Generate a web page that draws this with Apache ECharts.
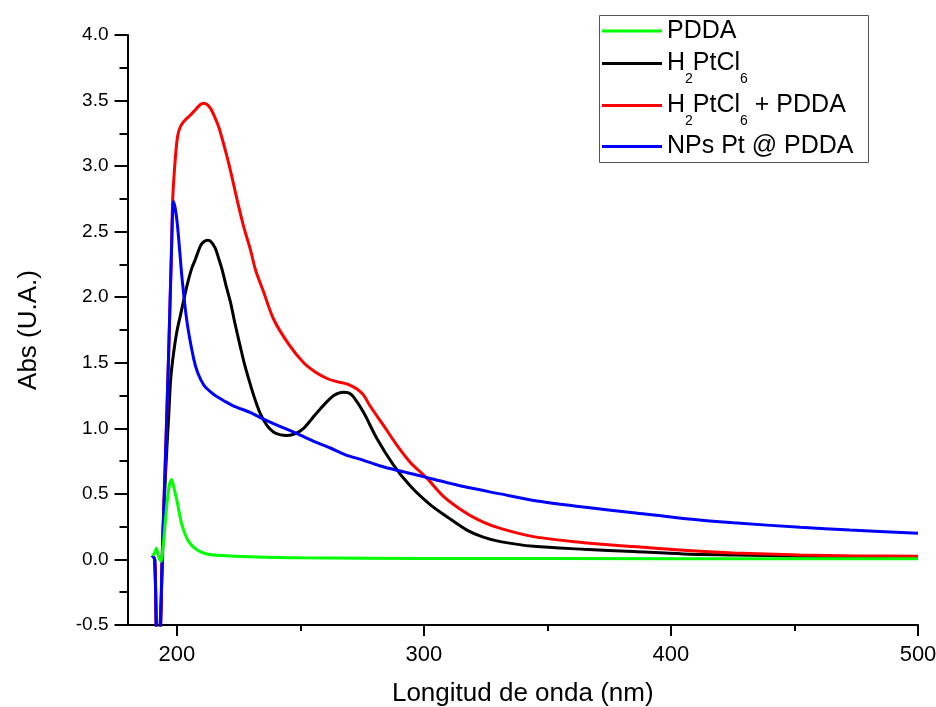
<!DOCTYPE html>
<html>
<head>
<meta charset="utf-8">
<script src="https://cdn.jsdelivr.net/npm/echarts@6/dist/echarts.min.js"></script>
<style>
html,body{margin:0;padding:0;background:#fff;}
#c{width:936px;height:707px;}
</style>
</head>
<body>
<div id="c"></div>
<script>
// ---- data (wavelength nm / absorbance) ----
const pddaNm  = [190,191,191.7,192.5,193.5,194.5,195.4,196.7,197.8,199,200.1,202.1,204.8,208.2,212.2,217.6,230,250,300,400,500];
const pddaAbs = [0.03,0.05,0.085,0.03,-0.015,0.12,0.31,0.54,0.61,0.53,0.44,0.26,0.136,0.072,0.042,0.03,0.02,0.012,0.008,0.006,0.006];

const h2ptNm  = [190,191,192,193,194,194.7,196,196.7,197.5,198.7,200,201.4,204.1,206,207.5,209.5,211,212.5,214,215.6,217,218.3,220,221.7,223.5,225.7,227.5,229.8,231.8,233.8,236.5,239.2,242,244.6,248,251.3,254.5,258.1,263.5,267.5,269.5,271.5,275.6,281,287.7,294.5,303,309.3,317.4,324,330.9,344.4,364.6,384.8,405,425.3,452.3,475,500];
const h2ptAbs = [0.03,0.0,-0.6,-0.55,-0.1,0.37,0.87,1.1,1.38,1.58,1.74,1.86,2.09,2.22,2.29,2.39,2.425,2.435,2.42,2.37,2.29,2.21,2.08,1.96,1.80,1.62,1.48,1.33,1.21,1.11,1.02,0.97,0.95,0.946,0.96,1.0,1.07,1.15,1.25,1.275,1.27,1.24,1.12,0.92,0.72,0.56,0.41,0.326,0.224,0.17,0.136,0.10,0.078,0.06,0.042,0.034,0.025,0.02,0.018];

const mixNm  = [190,191,192,193,194,195.4,196.7,197.8,198.3,199.4,200.3,201.4,202.8,205.5,207.5,209.5,210.9,212.2,213.6,215.2,216.9,218.6,220.3,222,224.4,227,229.8,231.8,235.1,239.2,245.3,251.3,256,260.8,264,267.5,270,272.9,275.5,278.2,283.7,289.1,294.5,301.2,308,317.4,324,330.9,344.4,364.6,384.8,405,425.3,452.3,475,500];
const mixAbs = [0.03,0.0,-0.6,-0.6,0.0,0.8,1.6,2.35,2.75,3.07,3.23,3.30,3.34,3.39,3.43,3.47,3.48,3.47,3.44,3.38,3.30,3.19,3.07,2.94,2.74,2.54,2.36,2.21,2.04,1.83,1.64,1.50,1.43,1.38,1.36,1.345,1.33,1.30,1.255,1.17,1.02,0.87,0.74,0.62,0.48,0.35,0.285,0.237,0.174,0.128,0.098,0.07,0.05,0.034,0.027,0.025];

const npsNm  = [190,191,192,193,194,195.4,196.7,197.8,198.7,200.1,202.1,204.1,206.8,208.5,210.9,213.5,216.3,220,223,229.8,235.1,241,248.6,255,262.1,268,275.6,282,289.1,296,303,310.7,317.4,330.9,344.4,364.6,384.8,405,425.3,452.3,472.5,500];
const npsAbs = [0.03,0.0,-0.6,-0.6,0.0,0.8,1.6,2.35,2.73,2.57,2.14,1.81,1.53,1.42,1.33,1.28,1.24,1.2,1.17,1.12,1.07,1.02,0.96,0.905,0.85,0.80,0.756,0.715,0.68,0.65,0.615,0.58,0.55,0.50,0.45,0.40,0.356,0.313,0.28,0.245,0.224,0.2];

const seriesNames = ['PDDA','H2PtCl6','H2PtCl6 + PDDA','NPs Pt @ PDDA'];
const seriesColors = ['#00ff00','#000000','#ff0000','#0000ff'];
const xMajorTicks = [200,300,400,500];
const xMinorTicks = [250,350,450];

const zip = (a,b) => a.map((x,i)=>[x,b[i]]);
const datasets = [zip(pddaNm,pddaAbs), zip(h2ptNm,h2ptAbs), zip(mixNm,mixAbs), zip(npsNm,npsAbs)];
const zs = [5,2,3,4];

const chart = echarts.init(document.getElementById('c'));
const axisCol = '#000';
const sans = '"Liberation Sans", Arial, sans-serif';

const legendTops = [18.5, 40.5, 82.5, 134];
const legendText = {
  fontFamily:sans, fontSize:25, color:'#000', lineHeight:20,
  rich:{
    n:{fontFamily:sans, fontSize:25, color:'#000', lineHeight:20},
    s:{fontFamily:sans, fontSize:14, color:'#000', lineHeight:20, padding:[32,0,0,0]}
  }
};
const legendFmt = function(name){
  if(name==='H2PtCl6') return '{n|H}{s|2}{n|PtCl}{s|6}';
  if(name==='H2PtCl6 + PDDA') return '{n|H}{s|2}{n|PtCl}{s|6}{n| + PDDA}';
  return '{n|'+name+'}';
};

chart.setOption({
  animation:false,
  backgroundColor:'#fff',
  grid:{left:127.5,right:18,top:35,bottom:82,containLabel:false,outerBoundsMode:'none'},
  graphic:[{
    type:'rect', left:597, top:13, z:100, silent:true,
    shape:{x:0,y:0,width:269,height:147},
    style:{fill:'none', stroke:'#555', lineWidth:1}
  }],
  legend:seriesNames.map((n,i)=>({
    orient:'vertical', left:602, top:legendTops[i], padding:0,
    itemWidth:60, itemHeight:3, icon:'rect',
    data:[n], formatter:legendFmt, textStyle:legendText, selectedMode:false
  })),
  xAxis:[{
    type:'value', min:180, max:500,
    name:'Longitud de onda (nm)', nameLocation:'middle', nameGap:56,
    nameTextStyle:{fontFamily:sans, fontSize:26, color:'#000'},
    axisLine:{show:true, onZero:false, lineStyle:{color:axisCol, width:2}},
    axisTick:{show:true, inside:false, length:11, customValues:xMajorTicks, lineStyle:{color:axisCol, width:2}},
    axisLabel:{show:true, customValues:xMajorTicks, margin:19, fontFamily:sans, fontSize:22, color:'#000'},
    splitLine:{show:false}
  },{
    type:'value', min:180, max:500, position:'bottom',
    axisLine:{show:false, onZero:false},
    axisTick:{show:true, inside:false, length:6, customValues:xMinorTicks, lineStyle:{color:axisCol, width:2}},
    axisLabel:{show:false},
    splitLine:{show:false}
  }],
  yAxis:{
    type:'value', min:-0.5, max:4.0, interval:0.5,
    name:'Abs (U.A.)', nameLocation:'middle', nameGap:86, nameRotate:90,
    nameTextStyle:{fontFamily:sans, fontSize:26, color:'#000'},
    axisLine:{show:true, onZero:false, lineStyle:{color:axisCol, width:2}},
    axisTick:{show:true, inside:false, length:13, lineStyle:{color:axisCol, width:2}},
    minorTick:{show:true, splitNumber:2, length:8, lineStyle:{color:axisCol, width:2}},
    axisLabel:{margin:19, fontFamily:sans, fontSize:19, color:'#000', formatter:v=>v.toFixed(1)},
    splitLine:{show:false}, minorSplitLine:{show:false}
  },
  series:seriesNames.map((n,i)=>({
    name:n, type:'line', xAxisIndex:0, data:datasets[i],
    showSymbol:false, smooth:0.3, clip:true, z:zs[i],
    lineStyle:{color:seriesColors[i], width:3},
    itemStyle:{color:seriesColors[i]}
  }))
});
</script>
</body>
</html>
